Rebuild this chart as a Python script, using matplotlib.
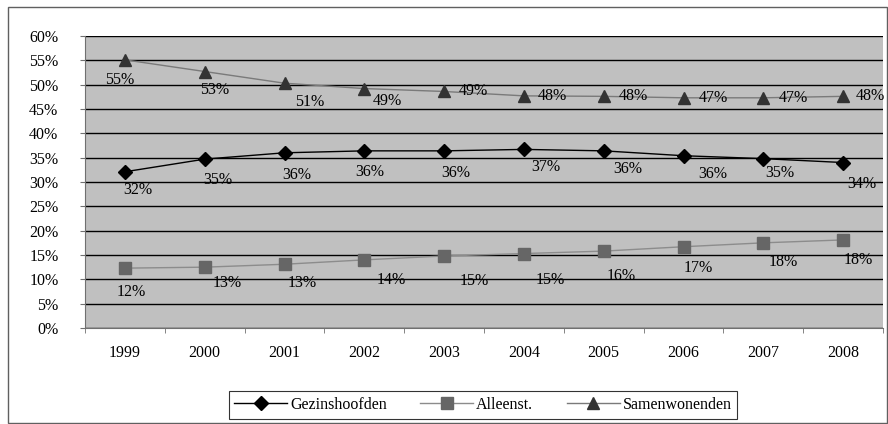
import numpy as np
import matplotlib
matplotlib.use('Agg')
import matplotlib.pyplot as plt
from matplotlib.patches import Rectangle

plt.rcParams['font.family'] = ['Liberation Serif', 'DejaVu Serif']

years = ['1999', '2000', '2001', '2002', '2003', '2004', '2005', '2006', '2007', '2008']
gezinshoofden = [32.1, 34.7, 36.0, 36.4, 36.4, 36.7, 36.4, 35.4, 34.8, 34.0]
alleenst = [12.3, 12.5, 13.1, 14.0, 14.8, 15.3, 15.8, 16.7, 17.5, 18.1]
samenwonenden = [55.1, 52.7, 50.3, 49.2, 48.6, 47.7, 47.6, 47.3, 47.3, 47.6]
lab_gez = ['32%', '35%', '36%', '36%', '36%', '37%', '36%', '36%', '35%', '34%']
lab_all = ['12%', '13%', '13%', '14%', '15%', '15%', '16%', '17%', '18%', '18%']
lab_sam = ['55%', '53%', '51%', '49%', '49%', '48%', '48%', '47%', '47%', '48%']

# offsets of the data labels (pixels, dx, dy)
off_gez = [(13, -18), (13, -21), (12, -22), (5, -21), (12, -22), (22, -18), (24, -18), (29, -18), (17, -14), (19, -21)]
off_all = [(6, -24), (23, -16), (18, -19), (27, -20), (30, -25), (26, -26), (18, -25), (15, -21), (20, -19), (15, -20)]
off_sam = [(-5, -20), (10, -18), (25, -19), (23, -12), (29, 0), (28, 0), (30, 0), (30, 0), (30, 0), (27, 0)]

fig = plt.figure(figsize=(8.88, 4.24), dpi=100)
fig.patch.set_facecolor('white')
fig.patches.append(Rectangle((8 / 888, 1 / 424), 879 / 888, 416 / 424, transform=fig.transFigure,
                             fill=False, edgecolor='#606060', linewidth=1))

ax = fig.add_axes([85 / 888, 1 - 328 / 424, 798 / 888, 292 / 424])
ax.set_facecolor('#c0c0c0')
x = np.arange(len(years))

ax.plot(x, gezinshoofden, color='black', lw=1, marker='D', ms=7, mfc='black', mec='black',
        label='Gezinshoofden', zorder=3)
ax.plot(x, alleenst, color='#8c8c8c', lw=1, marker='s', ms=8.5, mfc='#666666', mec='#666666',
        label='Alleenst.', zorder=3)
ax.plot(x, samenwonenden, color='#7a7a7a', lw=1, marker='^', ms=9, mfc='#333333', mec='#333333',
        label='Samenwonenden', zorder=3)

for vals, labs, offs in [(gezinshoofden, lab_gez, off_gez), (alleenst, lab_all, off_all),
                         (samenwonenden, lab_sam, off_sam)]:
    for i in range(len(vals)):
        ax.annotate(labs[i], (x[i], vals[i]), xytext=offs[i], textcoords='offset pixels',
                    ha='center', va='center', fontsize=11.5, zorder=4)

ax.set_xlim(-0.5, len(years) - 0.5)
ax.set_ylim(0, 60)
ax.set_yticks(np.arange(0, 61, 5))
ax.set_yticklabels(['%d%%' % v for v in range(0, 61, 5)], fontsize=11.5)
ax.yaxis.grid(True, color='black', lw=1)
ax.set_axisbelow(True)

ax.set_xticks(x)
ax.set_xticklabels(years, fontsize=11.5)
ax.set_xticks(np.arange(-0.5, len(years), 1), minor=True)
ax.tick_params(axis='x', which='major', length=0, pad=12)
ax.tick_params(axis='x', which='minor', length=3.6, color='#707070')
ax.tick_params(axis='y', length=3.6, color='#707070', pad=15.5)

for s in ['top', 'right']:
    ax.spines[s].set_visible(False)
ax.spines['left'].set_color('#707070')
ax.spines['bottom'].set_color('#707070')

leg = fig.legend(loc='center', bbox_to_anchor=(483 / 888, 1 - 405 / 424), ncol=3, frameon=True,
                 fancybox=False, edgecolor='black', fontsize=11.5, handlelength=3.3,
                 columnspacing=2.1, borderpad=0.35, handletextpad=0.2)
leg.get_frame().set_linewidth(0.8)

fig.savefig('out.png', dpi=100)
